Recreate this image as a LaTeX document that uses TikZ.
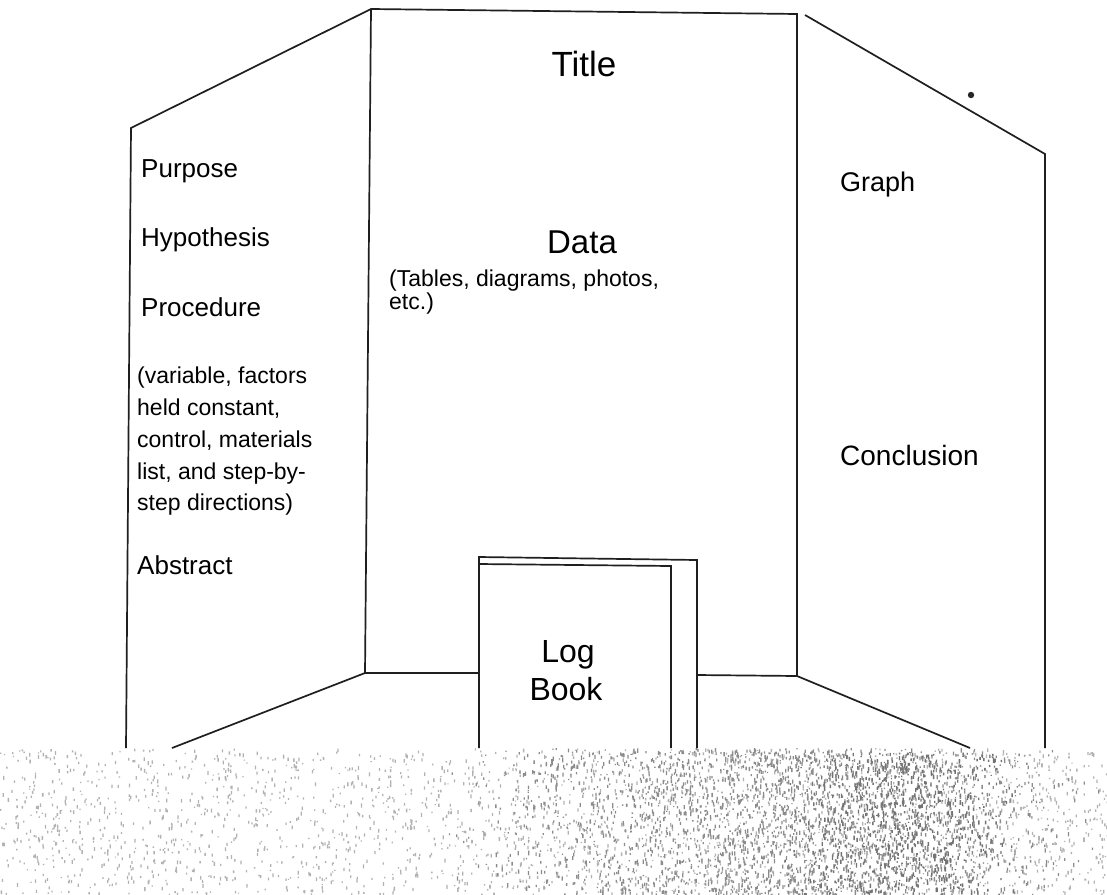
\documentclass[tikz,border=0pt]{standalone}
\usepackage{fontspec}
\setmainfont{Liberation Sans}
\begin{document}
\begin{tikzpicture}[x=1pt,y=-1pt,
  edge/.style={draw=black!88,line width=1.7pt,line join=miter},
  lbl/.style={anchor=base west,inner sep=0pt,font=\fontsize{26}{30}\selectfont},
  small/.style={anchor=base west,inner sep=0pt,font=\fontsize{23}{32}\selectfont},
  big/.style={anchor=base,inner sep=0pt}]
\useasboundingbox (0,0) rectangle (1107,894);
\fill[white] (0,0) rectangle (1107,894);
% ground texture
\pgfmathsetseed{4242}
\fill[black!30] \foreach \i in {1,...,2400}{ ({rnd*1107}, {748+rnd*146}) rectangle ++(1.3, {1+rnd*3}) };
\fill[black!45] \foreach \i in {1,...,2600}{ ({440+(rnd+rnd)*330}, {748+rnd*146}) rectangle ++(1.3, {1+rnd*3.5}) };
\fill[black!55] \foreach \i in {1,...,900}{ ({780+(rnd+rnd)*120}, {752+rnd*142}) rectangle ++(1.4, {1+rnd*3.5}) };
% panels
\coordinate (lb) at (126,748);
\coordinate (lt) at (131,128);
\coordinate (ctl) at (371,9);
\coordinate (cbl) at (365,673);
\coordinate (ctr) at (797,14);
\coordinate (cbr) at (797,676);
\coordinate (rtl) at (805,15);
\coordinate (rtr) at (1045,154);
\coordinate (rb) at (1045,748);
\coordinate (ldg) at (172,748);
\coordinate (rdg) at (970,748);
\coordinate (bkl) at (479,673);
\coordinate (bkr) at (697,675);
\draw[edge] (lb) -- (lt) -- (ctl) -- (ctr) -- (cbr);
\draw[edge] (ctl) -- (cbl);
\draw[edge] (rtl) -- (rtr) -- (rb);
\draw[edge] (ldg) -- (cbl) -- (bkl);
\draw[edge] (bkr) -- (cbr) -- (rdg);
% log book
\coordinate (b1) at (479,748);
\coordinate (b2) at (479,557);
\coordinate (b3) at (697,560);
\coordinate (b4) at (697,748);
\coordinate (i1) at (479,564);
\coordinate (i2) at (671,566);
\coordinate (i3) at (671,748);
\draw[edge] (b1) -- (b2) -- (b3) -- (b4);
\draw[edge] (i1) -- (i2) -- (i3);
% dot
\fill[black!85] (971,95) circle (3.2);
% texts
\node[big,font=\fontsize{35}{40}\selectfont] (title) at (584,76) {Title};
\node[big,font=\fontsize{33}{38}\selectfont] (data) at (582,253) {Data};
\node[small,font=\fontsize{23}{23}\selectfont] (tables) at (389,286) {(Tables, diagrams, photos,};
\node[small,font=\fontsize{23}{23}\selectfont] (etc) at (389,309) {etc.)};
\node[lbl] (purpose) at (141,177) {Purpose};
\node[lbl] (hyp) at (141,246) {Hypothesis};
\node[lbl] (proc) at (141,316) {Procedure};
\node[small] (p1) at (137,383) {(variable, factors};
\node[small] (p2) at (137,415) {held constant,};
\node[small] (p3) at (137,447) {control, materials};
\node[small] (p4) at (137,479) {list, and step-by-};
\node[small] (p5) at (137,510) {step directions)};
\node[lbl] (abstract) at (137,574) {Abstract};
\node[lbl,font=\fontsize{27}{30}\selectfont] (graph) at (840,191) {Graph};
\node[lbl,font=\fontsize{28}{30}\selectfont] (concl) at (840,465) {Conclusion};
\node[big,font=\fontsize{32}{38}\selectfont] (log) at (568,662) {Log};
\node[big,font=\fontsize{32}{38}\selectfont] (book) at (566,700) {Book};
\end{tikzpicture}
\end{document}
